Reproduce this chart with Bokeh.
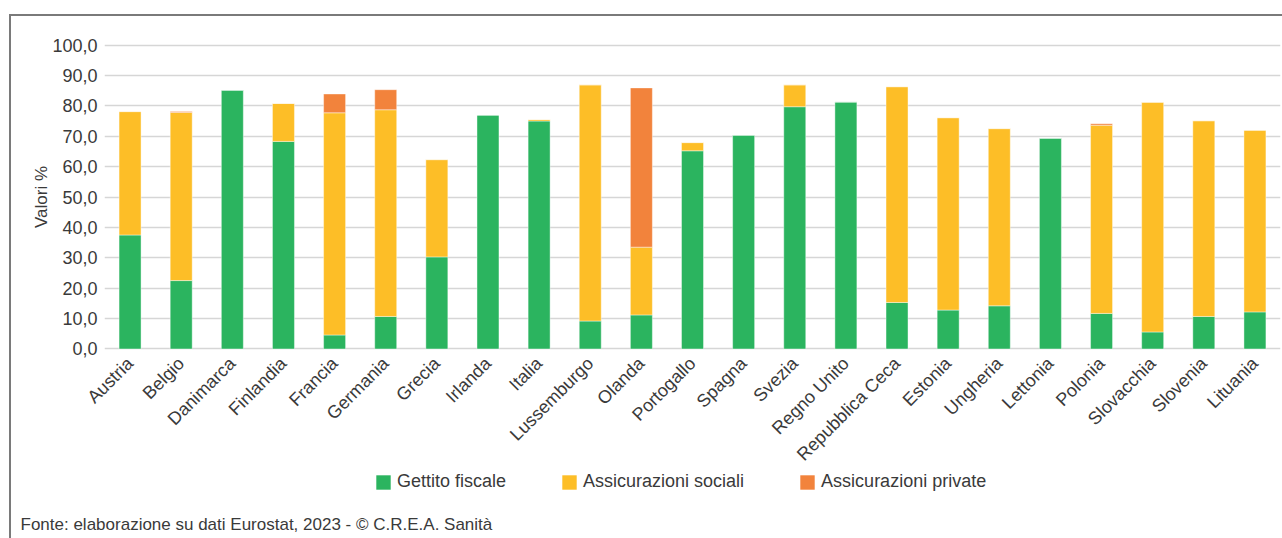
import math
from bokeh.plotting import figure
from bokeh.layouts import column
from bokeh.models import (FactorRange, Range1d, FixedTicker, Legend, LegendItem, Title,
                          ColumnDataSource)
from bokeh.embed import file_html
from bokeh.resources import INLINE

countries = ["Austria", "Belgio", "Danimarca", "Finlandia", "Francia", "Germania",
             "Grecia", "Irlanda", "Italia", "Lussemburgo", "Olanda", "Portogallo",
             "Spagna", "Svezia", "Regno Unito", "Repubblica Ceca", "Estonia",
             "Ungheria", "Lettonia", "Polonia", "Slovacchia", "Slovenia", "Lituania"]
gettito_fiscale = [37.5, 22.5, 85.2, 68.3, 4.6, 10.7, 30.3, 77.0, 75.0, 9.2, 11.2, 65.2,
                   70.4, 79.7, 81.3, 15.3, 12.8, 14.2, 69.4, 11.7, 5.6, 10.7, 12.2]
assicurazioni_sociali = [40.6, 55.3, 0.0, 12.5, 73.1, 68.0, 32.0, 0.0, 0.5, 77.7, 22.3, 2.7,
                         0.0, 7.2, 0.0, 71.0, 63.3, 58.3, 0.0, 61.9, 75.6, 64.4, 59.8]
assicurazioni_private = [0.0, 0.3, 0.0, 0.0, 6.2, 6.6, 0.0, 0.0, 0.0, 0.0, 52.4, 0.0,
                         0.0, 0.0, 0.0, 0.0, 0.0, 0.0, 0.0, 0.5, 0.0, 0.0, 0.0]
series_names = ["Gettito fiscale", "Assicurazioni sociali", "Assicurazioni private"]
colors = ["#2BB45F", "#FDBE27", "#F2833C"]
y_ticks = [0, 10, 20, 30, 40, 50, 60, 70, 80, 90, 100]
y_tick_labels = ["0,0", "10,0", "20,0", "30,0", "40,0", "50,0", "60,0", "70,0",
                 "80,0", "90,0", "100,0"]
source_note = "Fonte: elaborazione su dati Eurostat, 2023 - © C.R.E.A. Sanità"

FONT = "Liberation Sans"
TXT = "#3a3a3a"
W = 1271
HA = 458
HB = 78
OVERLAP = 14

# ---- main chart ----
p = figure(width=W, height=HA, x_range=FactorRange(*countries, range_padding=0),
           y_range=Range1d(-0.5, 100.5), output_backend="svg", toolbar_location=None,
           min_border_left=93, min_border_right=2, min_border_top=27,
           min_border_bottom=123)
p.outline_line_color = None

data = {"country": countries, "fiscale": gettito_fiscale,
        "sociali": assicurazioni_sociali, "private": assicurazioni_private}
p.vbar_stack(["fiscale", "sociali", "private"], x="country", width=0.43,
             color=colors, source=data, line_color="white", line_width=0.6,
             line_alpha=0.7)

p.xgrid.grid_line_color = None
p.ygrid.grid_line_color = "#d6d6d6"
p.ygrid.grid_line_width = 1.6

p.yaxis.ticker = FixedTicker(ticks=y_ticks)
p.yaxis.major_label_overrides = {t: s for t, s in zip(y_ticks, y_tick_labels)}
p.yaxis.axis_line_color = None
p.yaxis.major_tick_line_color = None
p.yaxis.minor_tick_line_color = None
p.yaxis.major_tick_out = 0
p.yaxis.major_tick_in = 0
p.yaxis.major_label_standoff = 7
p.yaxis.major_label_text_font = FONT
p.yaxis.major_label_text_font_size = "18px"
p.yaxis.major_label_text_color = TXT
p.yaxis.axis_label = "Valori %"
p.yaxis.axis_label_text_font = FONT
p.yaxis.axis_label_text_font_style = "normal"
p.yaxis.axis_label_text_font_size = "17px"
p.yaxis.axis_label_text_color = TXT
p.yaxis.axis_label_standoff = -2

p.xaxis.axis_line_color = None
p.xaxis.major_tick_line_color = None
p.xaxis.minor_tick_line_color = None
p.xaxis.major_tick_out = 0
p.xaxis.major_tick_in = 0
p.xaxis.major_label_orientation = math.pi / 4
p.xaxis.major_label_standoff = 10
p.xaxis.major_label_text_font = FONT
p.xaxis.major_label_text_font_size = "18px"
p.xaxis.major_label_text_color = TXT

# ---- legend + source strip ----
q = figure(width=W, height=HB, x_range=Range1d(0, 1), y_range=Range1d(0, 1),
           output_backend="svg", toolbar_location=None, x_axis_location=None,
           y_axis_location=None, min_border=0, min_border_bottom=26)
q.outline_line_color = None
q.xgrid.grid_line_color = None
q.ygrid.grid_line_color = None
q.background_fill_alpha = 0
q.border_fill_alpha = 0
q.styles = {"margin-top": f"-{OVERLAP}px"}

# legend keys: zero-size bars that only carry the series colours
keys = []
for c in colors:
    keys.append(q.vbar(x="x", top="top", width=0, color=c, line_color=None,
                       source=ColumnDataSource(data=dict(x=[0.0], top=[0.0]))))

legend = Legend(items=[LegendItem(label=n, renderers=[r]) for n, r in zip(series_names, keys)],
                orientation="horizontal", location=(270, 20), padding=0, margin=0,
                spacing=54, glyph_width=18, glyph_height=18, label_height=18,
                label_standoff=5, border_line_color=None, background_fill_alpha=0,
                label_text_font=FONT, label_text_font_size="18px",
                label_text_color=TXT)
q.add_layout(legend, "center")

q.add_layout(Title(text=source_note, align="left", offset=-84, standoff=0,
                   text_font=FONT, text_font_size="17px", text_font_style="normal",
                   text_color=TXT), "below")

layout = column(p, q, spacing=0)
layout.styles = {"border-top": "2px solid #7a7a7a", "border-left": "2px solid #7a7a7a",
                 "margin-left": "9px", "margin-top": "14px"}

open("out.html", "w").write(file_html(layout, INLINE))
